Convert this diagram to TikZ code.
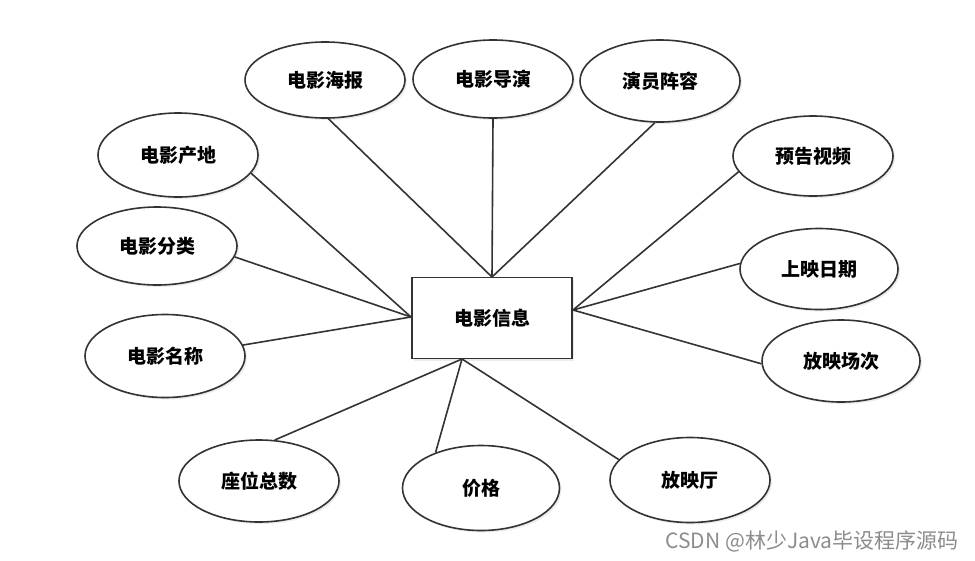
\documentclass[tikz,border=0pt]{standalone}
\usepackage{fontspec}
\setmainfont{Noto Sans CJK SC}
\usepackage{tikz}
\usetikzlibrary{
  shapes.geometric,
  shadows
}
\tikzset{
  attr/.style={
    draw=black!80, ellipse, line width=1.6pt,
    minimum width=160pt, minimum height=80pt,
    fill=white, drop shadow={shadow xshift=2pt, shadow yshift=-2pt, fill=black!15},
    font=\fontsize{19}{22}\selectfont\bfseries
  },
  entity/.style={
    draw=black!80, rectangle, line width=1.6pt,
    minimum width=160pt, minimum height=81pt,
    fill=white, drop shadow={shadow xshift=2pt, shadow yshift=-2pt, fill=black!15},
    font=\fontsize{19}{22}\selectfont\bfseries
  },
  link/.style={
    draw=black!80, line width=1.6pt
  },
}

\begin{document}
\begin{tikzpicture}[x=1pt, y=-1pt]

  \useasboundingbox (0,0) rectangle (975,560);

  % entity
  \node[entity] (film) at (492,318) {电影信息};
  \coordinate (top)   at (492,277);
  \coordinate (right) at (573,310);
  \coordinate (left)  at (411,317);
  \coordinate (bot)   at (462,359);

  % attributes
  \node[attr, minimum height=76pt] (poster)   at (325,80)  {电影海报};
  \node[attr, minimum height=78pt] (director) at (493,79)  {电影导演};
  \node[attr, minimum height=82pt] (cast)     at (660,81)  {演员阵容};
  \node[attr]                      (trailer)  at (813,156) {预告视频};
  \node[attr, minimum height=84pt] (origin)   at (178,155) {电影产地};
  \node[attr, minimum height=78pt] (genre)    at (157,246) {电影分类};
  \node[attr, minimum height=83pt] (title)    at (165,356) {电影名称};
  \node[attr, minimum height=81pt, minimum width=158pt]
    (release)  at (819,269) {上映日期};
  \node[attr, minimum height=82pt, minimum width=158pt]
    (session)  at (841,361) {放映场次};
  \node[attr, minimum height=82pt] (seats)    at (259,481) {座位总数};
  \node[attr, minimum height=85pt, minimum width=157pt]
    (price)    at (481,488) {价格};
  \node[attr, minimum height=85pt] (hall)     at (690,480) {放映厅};

  % links
  \draw[link] (top) -- (poster.-85);
  \draw[link] (top) -- (director.-90);
  \draw[link] (top) -- (cast.-97);
  \draw[link] (right) -- (trailer.192);
  \draw[link] (right) -- (release.176);
  \draw[link] (right) -- (session.182);
  \draw[link] (left) -- (origin.-14);
  \draw[link] (left) -- (genre.-8);
  \draw[link] (left) -- (title.8);
  \draw[link] (bot) -- (seats.69);
  \draw[link] (bot) -- (price.142);
  \draw[link] (bot) -- (hall.164);

  \node[text=black!45, font=\fontsize{21}{24}\selectfont] (mark) at (812,541)
    {CSDN @林少Java毕设程序源码};

\end{tikzpicture}
\end{document}
